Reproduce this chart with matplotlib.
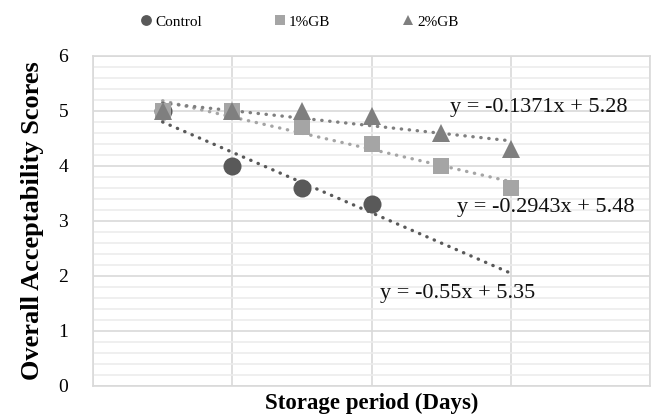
import numpy as np
import matplotlib.pyplot as plt
from matplotlib.ticker import MultipleLocator

# storage points (category index, axis labels are not shown)
days = [1, 2, 3, 4, 5, 6]
control = [5.0, 4.0, 3.6, 3.3]
gb1 = [5.0, 5.0, 4.7, 4.4, 4.0, 3.6]
gb2 = [5.0, 5.0, 5.0, 4.9, 4.6, 4.3]

names = ["Control", "1%GB", "2%GB"]
colors = ["#595959", "#a5a5a5", "#7f7f7f"]
markers = ["o", "s", "^"]
msizes = [13, 12, 13]

# where the equations sit (data coords)
eq_pos = [(4.12, 1.69), (5.23, 3.25), (5.13, 5.07)]

plt.rcParams['font.family'] = ['Liberation Serif', 'DejaVu Serif']

fig = plt.figure(figsize=(6.51, 4.2), dpi=100)
ax = fig.add_axes([0.1429, 0.081, 0.8556, 0.7857])

series = [control, gb1, gb2]
xfit = np.array([days[0], days[-1]])
handles = []
for vals, name, c, m, ms, pos in zip(series, names, colors, markers, msizes, eq_pos):
    x = np.array(days[:len(vals)])
    slope, icpt = np.polyfit(x, vals, 1)
    ax.plot(xfit, slope * xfit + icpt, color=c, lw=2.4,
            linestyle=(0, (0.1, 2.3)), dash_capstyle='round', zorder=3)
    h, = ax.plot(x, vals, linestyle='none', marker=m, ms=ms, color=c,
                 markeredgewidth=0, zorder=4, label=name)
    handles.append(h)
    ax.text(pos[0], pos[1], f"y = {slope:.4g}x + {icpt:.4g}", fontsize=16,
            ha='left', va='center', color='#111111', zorder=5)

ax.set_xlim(0, 8)
ax.set_ylim(0, 6)
ax.xaxis.set_major_locator(MultipleLocator(2))
ax.yaxis.set_major_locator(MultipleLocator(1))
ax.yaxis.set_minor_locator(MultipleLocator(0.2))
ax.grid(True, which='major', color='#d9d9d9', lw=1.2, zorder=0)
ax.grid(True, which='minor', axis='y', color='#ececec', lw=1.2, zorder=0)
ax.set_axisbelow(True)
for s in ax.spines.values():
    s.set_color('#d9d9d9')
    s.set_linewidth(1.2)
ax.tick_params(axis='x', which='both', length=0, labelbottom=False)
ax.tick_params(axis='y', which='both', length=0, pad=18, labelsize=14)

ax.set_xlabel("Storage period (Days)", fontsize=16.5, fontweight='bold', labelpad=5)
ax.set_ylabel("Overall Acceptability Scores", fontsize=19, fontweight='bold', labelpad=10)

fig.legend(handles=handles, loc='center', bbox_to_anchor=(0.46, 0.948), ncol=3,
           frameon=False, fontsize=11, markerscale=0.6, handlelength=0.8,
           handletextpad=0.2, columnspacing=4.7)

fig.savefig('out.png', dpi=100)
